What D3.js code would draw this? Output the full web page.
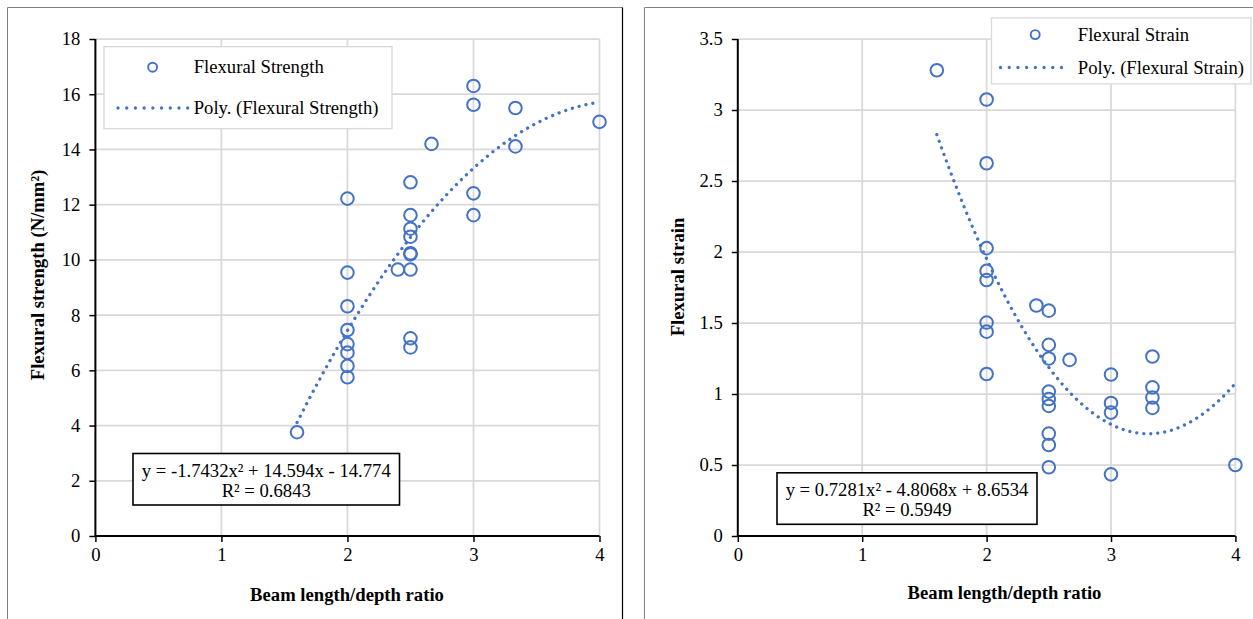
<!DOCTYPE html>
<html>
<head>
<meta charset="utf-8">
<script src="https://cdn.jsdelivr.net/npm/d3@7"></script>
<style>
  html, body { margin: 0; padding: 0; background: #fff; }
  svg { display: block; }
  text { font-family: "Liberation Serif", "Times New Roman", serif; fill: #000; }
</style>
</head>
<body>
<svg id="chart" width="1253" height="619"></svg>
<script>
// ---------- DATA ----------
const strengthX = [1.6, 2, 2, 2, 2, 2, 2, 2, 2, 2.4, 2.5, 2.5, 2.5, 2.5, 2.5, 2.5, 2.5, 2.5, 2.5, 2.667, 3, 3, 3, 3, 3.333, 3.333, 4];
const strengthY = [3.76, 12.22, 9.54, 8.32, 7.46, 6.95, 6.64, 6.16, 5.75, 9.65, 12.81, 11.62, 11.13, 10.84, 10.24, 10.2, 9.65, 7.16, 6.83, 14.2, 16.3, 15.62, 12.41, 11.62, 15.5, 14.11, 15.0];
const strainX = [1.6, 2, 2, 2, 2, 2, 2, 2, 2, 2.4, 2.5, 2.5, 2.5, 2.5, 2.5, 2.5, 2.5, 2.5, 2.5, 2.667, 3, 3, 3, 3, 3.333, 3.333, 3.333, 3.333, 4];
const strainY = [3.28, 3.074, 2.625, 2.027, 1.867, 1.803, 1.503, 1.439, 1.141, 1.623, 1.587, 1.346, 1.25, 1.017, 0.965, 0.916, 0.721, 0.641, 0.484, 1.24, 1.137, 0.937, 0.869, 0.434, 1.264, 1.047, 0.975, 0.902, 0.5];
// trendline coefficients as printed on the chart (a x^2 + b x + c)
const strengthCoef = [-1.7432, 14.594, -14.774];
const strainCoef = [0.7281, -4.8068, 8.6534];
const strengthR2 = "0.6843";
const strainR2 = "0.5949";
const trendRange = [1.6, 4];
const xTicks = [0, 1, 2, 3, 4];
const strengthTicks = [0, 2, 4, 6, 8, 10, 12, 14, 16, 18];
const strainTicks = [0, 0.5, 1, 1.5, 2, 2.5, 3, 3.5];
const strengthLegend = ["Flexural Strength", "Poly. (Flexural Strength)"];
const strainLegend = ["Flexural Strain", "Poly. (Flexural Strain)"];
const strengthEq = "y = -1.7432x² + 14.594x - 14.774";
const strainEq = "y = 0.7281x² - 4.8068x + 8.6534";
const xTitle = "Beam length/depth ratio";
const strengthTitle = "Flexural strength (N/mm²)";
const strainTitle = "Flexural strain";

// ---------- DRAW ----------
const svg = d3.select("#chart");
const BLUE = "#4472C4";
const GRID = "#d9d9d9";
const FS = "18.67px";

// panel frames
svg.append("path").attr("d", "M7.5,619 L7.5,7.5 L622.5,7.5").attr("fill", "none").attr("stroke", "#7f7f7f").attr("stroke-width", 1);
svg.append("line").attr("x1", 622.5).attr("x2", 622.5).attr("y1", 7.5).attr("y2", 619).attr("stroke", "#000").attr("stroke-width", 1.2);
svg.append("path").attr("d", "M644.5,619 L644.5,7.5 L1253,7.5").attr("fill", "none").attr("stroke", "#7f7f7f").attr("stroke-width", 1);

function drawPanel(cfg) {
  const x = d3.scaleLinear().domain([0, 4]).range(cfg.xRange);
  const y = d3.scaleLinear().domain(cfg.yDomain).range([536, 39]);
  const g = svg.append("g");

  // gridlines
  g.append("g").selectAll("line.v").data(cfg.xTicks.filter(d => d > 0)).join("line")
    .attr("x1", d => x(d)).attr("x2", d => x(d)).attr("y1", y.range()[0]).attr("y2", y.range()[1])
    .attr("stroke", GRID).attr("stroke-width", 1.75);
  g.append("g").selectAll("line.h").data(cfg.yTicks.filter(d => d > 0)).join("line")
    .attr("x1", x.range()[0]).attr("x2", x.range()[1]).attr("y1", d => y(d)).attr("y2", d => y(d))
    .attr("stroke", GRID).attr("stroke-width", 1.75);

  // axes
  const xAxis = d3.axisBottom(x).tickValues(cfg.xTicks).tickSize(6).tickPadding(6).tickFormat(d3.format("d"));
  const yAxis = d3.axisLeft(y).tickValues(cfg.yTicks).tickSize(6).tickPadding(9).tickFormat(d => String(d));
  const gx = g.append("g").attr("transform", `translate(0,${y(0)})`).call(xAxis);
  const gy = g.append("g").attr("transform", `translate(${x(0)},0)`).call(yAxis);
  [gx, gy].forEach(a => {
    a.select(".domain").attr("stroke", "#000").attr("stroke-width", 2);
    a.selectAll(".tick line").attr("stroke", "#000").attr("stroke-width", 1.5);
    a.selectAll(".tick text").style("font-family", "'Liberation Serif', serif").style("font-size", FS).attr("fill", "#000");
  });
  gx.select(".domain").attr("d", `M${x.range()[0]},0H${x.range()[1]}`);
  gy.select(".domain").attr("d", `M0,${y.range()[0]}V${y.range()[1]}`);

  // trendline
  const [a, b, c] = cfg.coef;
  const xs = d3.range(cfg.trend[0], cfg.trend[1] + 1e-9, 0.01);
  const line = d3.line().x(d => x(d)).y(d => y(a * d * d + b * d + c));
  g.append("path").datum(xs).attr("d", line).attr("fill", "none")
    .attr("stroke", BLUE).attr("stroke-width", 3.3).attr("stroke-linecap", "round")
    .attr("stroke-dasharray", "0.01 7");

  // points
  g.append("g").selectAll("circle").data(cfg.px.map((v, i) => [v, cfg.py[i]])).join("circle")
    .attr("cx", d => x(d[0])).attr("cy", d => y(d[1])).attr("r", 6.3)
    .attr("fill", "none").attr("stroke", BLUE).attr("stroke-width", 2);

  // axis titles
  g.append("text").attr("x", cfg.xTitlePos[0]).attr("y", cfg.xTitlePos[1]).attr("text-anchor", "middle")
    .style("font-size", FS).style("font-weight", "bold").text(xTitle);
  g.append("text").attr("transform", `translate(${cfg.yTitlePos[0]},${cfg.yTitlePos[1]}) rotate(-90)`)
    .attr("text-anchor", "middle").style("font-size", FS).style("font-weight", "bold").text(cfg.yTitle);

  // legend
  const L = cfg.legend;
  g.append("rect").attr("x", L.x).attr("y", L.y).attr("width", L.w).attr("height", L.h)
    .attr("fill", "#fff").attr("stroke", GRID).attr("stroke-width", 1.3);
  g.append("circle").attr("cx", L.markerX).attr("cy", L.row1).attr("r", 4.5)
    .attr("fill", "none").attr("stroke", BLUE).attr("stroke-width", 1.9);
  g.append("text").attr("x", L.textX).attr("y", L.row1 + 6).style("font-size", FS).text(cfg.legendText[0]);
  g.append("line").attr("x1", L.lineX[0]).attr("x2", L.lineX[1]).attr("y1", L.row2).attr("y2", L.row2)
    .attr("stroke", BLUE).attr("stroke-width", 3.3).attr("stroke-linecap", "round").attr("stroke-dasharray", "0.01 8.7");
  g.append("text").attr("x", L.textX).attr("y", L.row2 + 6).style("font-size", FS).text(cfg.legendText[1]);

  // equation box
  const E = cfg.eq;
  g.append("rect").attr("x", E.x).attr("y", E.y).attr("width", E.w).attr("height", E.h)
    .attr("fill", "#fff").attr("stroke", "#000").attr("stroke-width", 1.6);
  g.append("text").attr("x", E.x + E.w / 2).attr("y", E.y + 23).attr("text-anchor", "middle")
    .style("font-size", FS).text(cfg.eqText);
  g.append("text").attr("x", E.x + E.w / 2).attr("y", E.y + 43.5).attr("text-anchor", "middle")
    .style("font-size", FS).text("R² = " + cfg.r2);
}

drawPanel({
  xRange: [95.4, 599.5], yDomain: [0, 18], xTicks: xTicks, yTicks: strengthTicks,
  px: strengthX, py: strengthY, coef: strengthCoef, trend: trendRange,
  xTitlePos: [347, 601], yTitlePos: [43.5, 275], yTitle: strengthTitle,
  legend: { x: 104, y: 46.7, w: 288, h: 82, markerX: 152.6, row1: 67.2, row2: 108, textX: 193.7, lineX: [118, 188] },
  legendText: strengthLegend,
  eq: { x: 133, y: 453.5, w: 266.5, h: 51.5 }, eqText: strengthEq, r2: strengthR2
});

drawPanel({
  xRange: [737.8, 1235.4], yDomain: [0, 3.5], xTicks: xTicks, yTicks: strainTicks,
  px: strainX, py: strainY, coef: strainCoef, trend: trendRange,
  xTitlePos: [1004.5, 599], yTitlePos: [683.7, 277], yTitle: strainTitle,
  legend: { x: 991.5, y: 17.9, w: 259.5, h: 66, markerX: 1035.2, row1: 34.6, row2: 67.5, textX: 1077.8, lineX: [1000.5, 1070] },
  legendText: strainLegend,
  eq: { x: 777, y: 472.8, w: 260, h: 51.5 }, eqText: strainEq, r2: strainR2
});
</script>
</body>
</html>
